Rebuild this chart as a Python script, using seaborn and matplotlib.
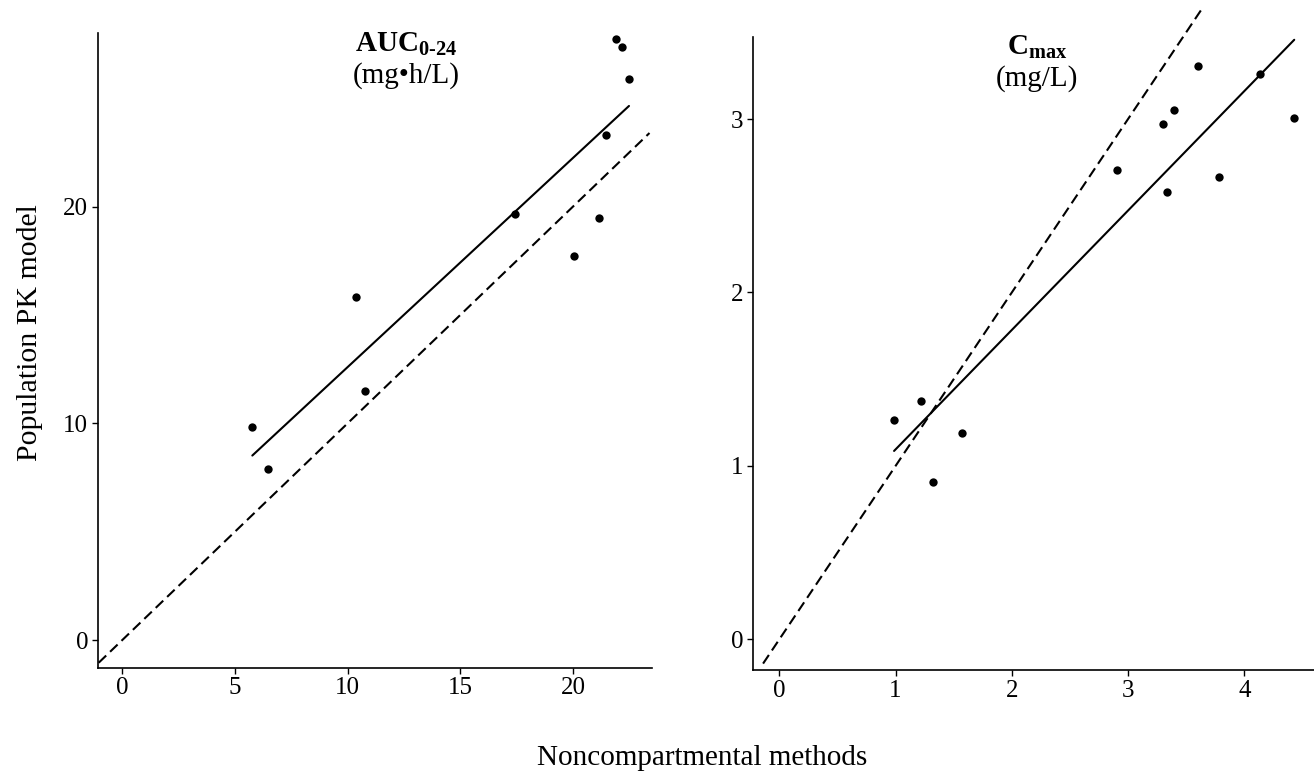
import matplotlib
matplotlib.use("Agg")
import matplotlib.pyplot as plt
import seaborn as sns
import numpy as np

# Values (noncompartmental vs population PK)
auc_nca = [5.77, 6.48, 10.36, 10.78, 17.41, 20.06, 21.18, 21.45, 21.91, 22.18, 22.49]
auc_pop = [9.82, 7.88, 15.84, 11.48, 19.66, 17.72, 19.49, 23.30, 27.73, 27.38, 25.87]
cmax_nca = [0.987, 1.217, 1.320, 1.575, 2.904, 3.302, 3.334, 3.397, 3.601, 3.784, 4.137, 4.43]
cmax_pop = [1.267, 1.376, 0.905, 1.19, 2.707, 2.970, 2.581, 3.051, 3.306, 2.665, 3.261, 3.005]

# extent of the dashed identity line (y = x)
auc_identity = [-1.05, 23.4]
cmax_identity = [-0.14, 3.65]

auc_ticks = [0, 5, 10, 15, 20]
auc_yticks = [0, 10, 20]
cmax_ticks = [0, 1, 2, 3, 4]
cmax_yticks = [0, 1, 2, 3]

sns.set_theme(style='ticks')
plt.rcParams['font.family'] = ['Liberation Serif', 'DejaVu Serif']
plt.rcParams['mathtext.fontset'] = 'custom'
plt.rcParams['mathtext.rm'] = 'Liberation Serif'
plt.rcParams['mathtext.bf'] = 'Liberation Serif:bold'
plt.rcParams['axes.linewidth'] = 1.2
for k in ['text.color', 'axes.labelcolor', 'xtick.color', 'ytick.color', 'axes.edgecolor']:
    plt.rcParams[k] = 'black'

fig = plt.figure(figsize=(13.14, 7.79), dpi=100)
ax1 = fig.add_axes([0.0744, 0.1431, 0.4216, 0.8141])
ax2 = fig.add_axes([0.5733, 0.1399, 0.4267, 0.8130])

panels = [
    (ax1, auc_nca, auc_pop, auc_identity, (-1.09, 23.5), (-1.27, 28.0), auc_ticks, auc_yticks,
     r"$\mathbf{AUC}_{\mathbf{0\text{-}24}}$", "(mg•h/L)", 0.557),
    (ax2, cmax_nca, cmax_pop, cmax_identity, (-0.224, 4.60), (-0.177, 3.475), cmax_ticks, cmax_yticks,
     r"$\mathbf{C}_{\mathbf{max}}$", "(mg/L)", 0.506),
]

for ax, x, y, ident, xl, yl, xt, yt, t1, t2, tx in panels:
    # points plus least-squares line
    sns.regplot(x=x, y=y, ax=ax, ci=None, color='black',
                scatter_kws={'s': 36, 'linewidths': 0, 'alpha': 1},
                line_kws={'linewidth': 1.5})
    # line of identity
    sns.lineplot(x=ident, y=ident, ax=ax, color='black', linewidth=1.5,
                 linestyle=(0, (5, 2.6)), clip_on=False)
    ax.set_xlim(*xl)
    ax.set_ylim(*yl)
    ax.set_xticks(xt)
    ax.set_yticks(yt)
    ax.tick_params(labelsize=18, length=4, width=1, pad=3, color='black', labelcolor='black')
    ax.set_xlabel('')
    ax.set_ylabel('')
    sns.despine(ax=ax)
    ax.text(tx, 1.005, t1, transform=ax.transAxes, ha='center', va='top', fontsize=21)
    ax.text(tx, 0.955, t2, transform=ax.transAxes, ha='center', va='top', fontsize=21)

fig.text(0.023, 1 - 333 / 779, 'Population PK model', rotation=90, ha='center', va='center', fontsize=21.5)
fig.text(0.534, 1 - 758 / 779, 'Noncompartmental methods', ha='center', va='center', fontsize=21)

plt.savefig('out.png', dpi=100)
